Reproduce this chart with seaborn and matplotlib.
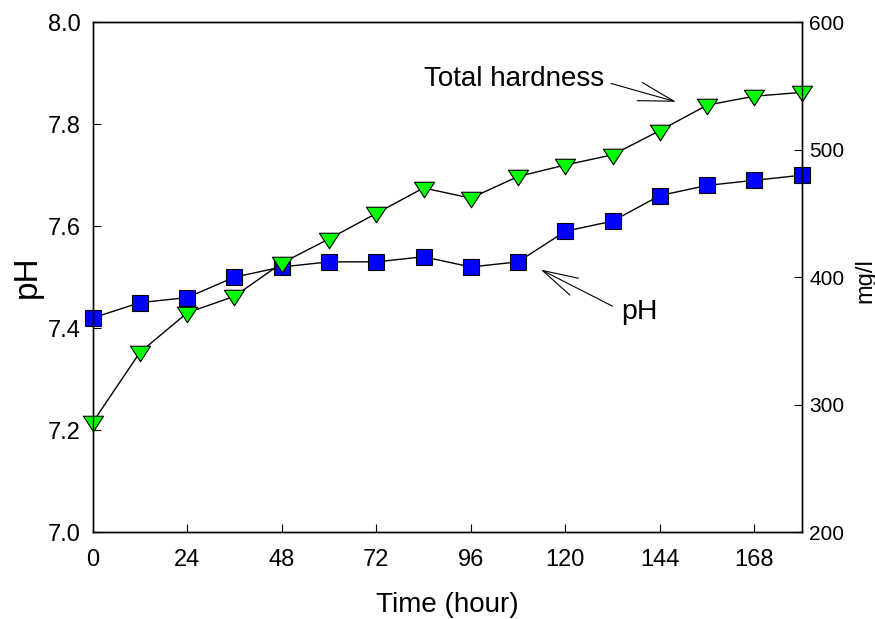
import numpy as np
import matplotlib
matplotlib.use("Agg")
import matplotlib.pyplot as plt
from matplotlib.path import Path
from matplotlib.ticker import FormatStrFormatter, MultipleLocator
import seaborn as sns

# data
hours = [0, 12, 24, 36, 48, 60, 72, 84, 96, 108, 120, 132, 144, 156, 168, 180]
ph = [7.42, 7.45, 7.46, 7.50, 7.52, 7.53, 7.53, 7.54, 7.52, 7.53,
      7.59, 7.61, 7.66, 7.68, 7.69, 7.70]
hardness = [286, 341, 372, 385, 411, 430, 450, 470, 462, 479,
            488, 496, 515, 535, 542, 545]

sns.set_style("ticks")
plt.rcParams["font.family"] = ["Liberation Sans", "DejaVu Sans"]
plt.rcParams["text.color"] = "black"
plt.rcParams["axes.labelcolor"] = "black"
plt.rcParams["xtick.color"] = "black"
plt.rcParams["ytick.color"] = "black"

# downward triangle, a bit flatter than matplotlib's 'v'
tri = Path([(-1, 0.62), (1, 0.62), (0, -0.92), (-1, 0.62)],
           [Path.MOVETO, Path.LINETO, Path.LINETO, Path.CLOSEPOLY])

fig = plt.figure(figsize=(8.75, 6.19), dpi=100)
ax = fig.add_axes([0.1059, 0.1405, 0.8103, 0.8235])
ax2 = ax.twinx()

sns.lineplot(x=hours, y=ph, ax=ax, color="black", lw=1.0,
             marker="s", markersize=11.5, markerfacecolor="#0000ff",
             markeredgecolor="black", markeredgewidth=0.8, clip_on=False)
sns.lineplot(x=hours, y=hardness, ax=ax2, color="black", lw=1.0,
             marker=tri, markersize=14.5, markerfacecolor="#00ff00",
             markeredgecolor="black", markeredgewidth=0.8, clip_on=False)

ax.set_xlim(0, 180)
ax.set_ylim(7.0, 8.0)
ax2.set_ylim(200, 600)
ax.xaxis.set_major_locator(MultipleLocator(24))
ax.yaxis.set_major_locator(MultipleLocator(0.2))
ax.yaxis.set_major_formatter(FormatStrFormatter("%.1f"))
ax2.yaxis.set_major_locator(MultipleLocator(100))

for a in (ax, ax2):
    for s in a.spines.values():
        s.set_visible(True)
        s.set_linewidth(1.0)
        s.set_color("black")

ax.tick_params(axis="x", direction="in", length=5.5, width=0.8,
               labelsize=17, pad=12.5, top=False, colors="black")
ax.tick_params(axis="y", direction="in", length=5.5, width=0.8,
               labelsize=17, pad=8.4, right=False, colors="black")
ax2.tick_params(axis="y", direction="in", length=5.5, width=0.8,
                labelsize=15, pad=5.3, colors="black")

ax.set_xlabel("Time (hour)", fontsize=20, color="black")
ax.xaxis.label.set_va("baseline")
ax.xaxis.set_label_coords(0.5, -0.1563)
ax.set_ylabel("pH", fontsize=24, color="black")
ax.yaxis.set_label_coords(-0.0705, 0.5)
ax2.set_ylabel("mg/l", fontsize=17, color="black")
ax2.yaxis.set_label_coords(1.0738, 0.494)

arrow = dict(arrowstyle="->,head_length=2.56,head_width=0.68",
             mutation_scale=10, lw=0.8, color="black", shrinkA=0, shrinkB=0)
ax.annotate("", xy=(148.1, 7.844), xytext=(131.6, 7.880), arrowprops=arrow)
ax.text(129.8, 7.8745, "Total hardness", ha="right", va="baseline",
        fontsize=20, color="black")
ax.annotate("", xy=(113.7, 7.515), xytext=(132.0, 7.443), arrowprops=arrow)
ax.text(134.2, 7.417, "pH", ha="left", va="baseline", fontsize=20.5,
        color="black")

fig.savefig("out.png", dpi=100)
